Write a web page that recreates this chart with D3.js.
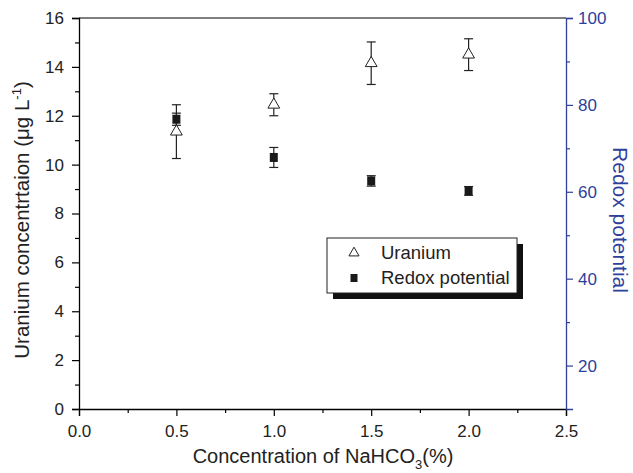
<!DOCTYPE html>
<html><head><meta charset="utf-8">
<script src="https://cdn.jsdelivr.net/npm/d3@7"></script>
<style>body{margin:0;background:#fff}svg{display:block}text{font-family:"Liberation Sans",Arial,sans-serif}</style>
</head><body><svg id="c" width="633" height="473"></svg>
<script>
const concentrations = [0.5, 1.0, 1.5, 2.0];
const uranium = [11.35, 12.45, 14.15, 14.5];
const uraniumErr = [1.1, 0.45, 0.87, 0.65];
const redox = [76.7, 67.9, 62.5, 60.2];
const redoxErr = [1.4, 2.3, 1.2, 1.0];
const xTicks = [0, 0.5, 1.0, 1.5, 2.0, 2.5];
const xMinor = [0.25, 0.75, 1.25, 1.75, 2.25];
const yTicks = [0, 2, 4, 6, 8, 10, 12, 14, 16];
const yMinor = [1, 3, 5, 7, 9, 11, 13, 15];
const y2Ticks = [20, 40, 60, 80, 100];
const y2Minor = [30, 50, 70, 90];

const blue = "#2f3f9c";
const svg = d3.select("#c");
const L = 79, R = 566, T = 18, B = 409;
const x = d3.scaleLinear().domain([0, 2.5]).range([L, R]);
const y = d3.scaleLinear().domain([0, 16]).range([B, T]);
const y2 = d3.scaleLinear().domain([10, 100]).range([B, T]);

svg.append("line").attr("x1", L).attr("x2", R).attr("y1", T).attr("y2", T).attr("stroke", "#000").attr("stroke-width", 1.2);

function styleAxis(g, color) {
  g.selectAll("path.domain").attr("stroke", color).attr("stroke-width", 1.3);
  g.selectAll("line").attr("stroke", color).attr("stroke-width", 1.2);
  g.selectAll("text").attr("fill", color).attr("font-size", 17);
}

const gx = svg.append("g").attr("transform", `translate(0,${B})`)
  .call(d3.axisBottom(x).tickValues(xTicks).tickFormat(d3.format(".1f")).tickSizeOuter(0).tickSize(7).tickPadding(9));
styleAxis(gx, "#000");
gx.selectAll("text").attr("fill", "#222");
svg.append("g").attr("transform", `translate(0,${B})`)
  .call(d3.axisBottom(x).tickValues(xMinor).tickFormat("").tickSize(4))
  .call(g => { g.select(".domain").remove(); g.selectAll("line").attr("stroke", "#000").attr("stroke-width", 1.2); });

const gy = svg.append("g").attr("transform", `translate(${L},0)`)
  .call(d3.axisLeft(y).tickValues(yTicks).tickFormat(d3.format("d")).tickSizeOuter(0).tickSize(7).tickPadding(8));
styleAxis(gy, "#000");
gy.selectAll("text").attr("fill", "#222");
svg.append("g").attr("transform", `translate(${L},0)`)
  .call(d3.axisLeft(y).tickValues(yMinor).tickFormat("").tickSize(4))
  .call(g => { g.select(".domain").remove(); g.selectAll("line").attr("stroke", "#000").attr("stroke-width", 1.2); });

const gy2 = svg.append("g").attr("transform", `translate(${R},0)`)
  .call(d3.axisRight(y2).tickValues(y2Ticks).tickFormat(d3.format("d")).tickSizeOuter(0).tickSize(7).tickPadding(5));
styleAxis(gy2, blue);
svg.append("g").attr("transform", `translate(${R},0)`)
  .call(d3.axisRight(y2).tickValues(y2Minor).tickFormat("").tickSize(4))
  .call(g => { g.select(".domain").remove(); g.selectAll("line").attr("stroke", blue).attr("stroke-width", 1.2); });

svg.append("text").attr("transform", `translate(29,220) rotate(-90)`)
  .attr("text-anchor", "middle").attr("font-size", 20.5).attr("fill", "#222")
  .html('Uranium concentrtaion (μg L<tspan dy="-8" font-size="13">-1</tspan><tspan dy="8">)</tspan>');
svg.append("text").attr("transform", `translate(613,220) rotate(90)`)
  .attr("text-anchor", "middle").attr("font-size", 21).attr("fill", blue).text("Redox potential");
svg.append("text").attr("x", 323).attr("y", 463).attr("text-anchor", "middle").attr("font-size", 20).attr("fill", "#222")
  .html('Concentration of NaHCO<tspan dy="6" font-size="13">3</tspan><tspan dy="-6">(%)</tspan>');

function errBars(vals, errs, scale) {
  const g = svg.append("g").attr("stroke", "#222").attr("stroke-width", 1.2);
  concentrations.forEach((c, i) => {
    const cx = x(c), y1 = scale(vals[i] + errs[i]), y0 = scale(vals[i] - errs[i]);
    g.append("line").attr("x1", cx).attr("x2", cx).attr("y1", y1).attr("y2", y0);
    g.append("line").attr("x1", cx - 4.5).attr("x2", cx + 4.5).attr("y1", y1).attr("y2", y1);
    g.append("line").attr("x1", cx - 4.5).attr("x2", cx + 4.5).attr("y1", y0).attr("y2", y0);
  });
}
errBars(redox, redoxErr, y2);
errBars(uranium, uraniumErr, y);

const tri = d3.symbol().type(d3.symbolTriangle).size(60);
svg.append("g").selectAll("path").data(concentrations).join("path")
  .attr("d", tri).attr("transform", (d, i) => `translate(${x(d)},${y(uranium[i])})`)
  .attr("fill", "#fff").attr("stroke", "#222").attr("stroke-width", 1);
svg.append("g").selectAll("rect").data(concentrations).join("rect")
  .attr("x", d => x(d) - 4).attr("y", (d, i) => y2(redox[i]) - 4.5).attr("width", 8).attr("height", 9)
  .attr("fill", "#1a1a1a");

const lg = svg.append("g");
lg.append("rect").attr("x", 333).attr("y", 244).attr("width", 190).attr("height", 55).attr("fill", "#111");
lg.append("rect").attr("x", 327).attr("y", 238).attr("width", 190).attr("height", 55).attr("fill", "#fff").attr("stroke", "#222").attr("stroke-width", 1);
lg.append("path").attr("d", d3.symbol().type(d3.symbolTriangle).size(44)).attr("transform", "translate(354,253)")
  .attr("fill", "#fff").attr("stroke", "#222").attr("stroke-width", 1);
lg.append("rect").attr("x", 350.5).attr("y", 274).attr("width", 7).attr("height", 8).attr("fill", "#1a1a1a");
lg.append("text").attr("x", 381).attr("y", 259).attr("font-size", 18.5).attr("fill", "#222").text("Uranium");
lg.append("text").attr("x", 381).attr("y", 284).attr("font-size", 18.5).attr("fill", "#222").text("Redox potential");
</script></body></html>
